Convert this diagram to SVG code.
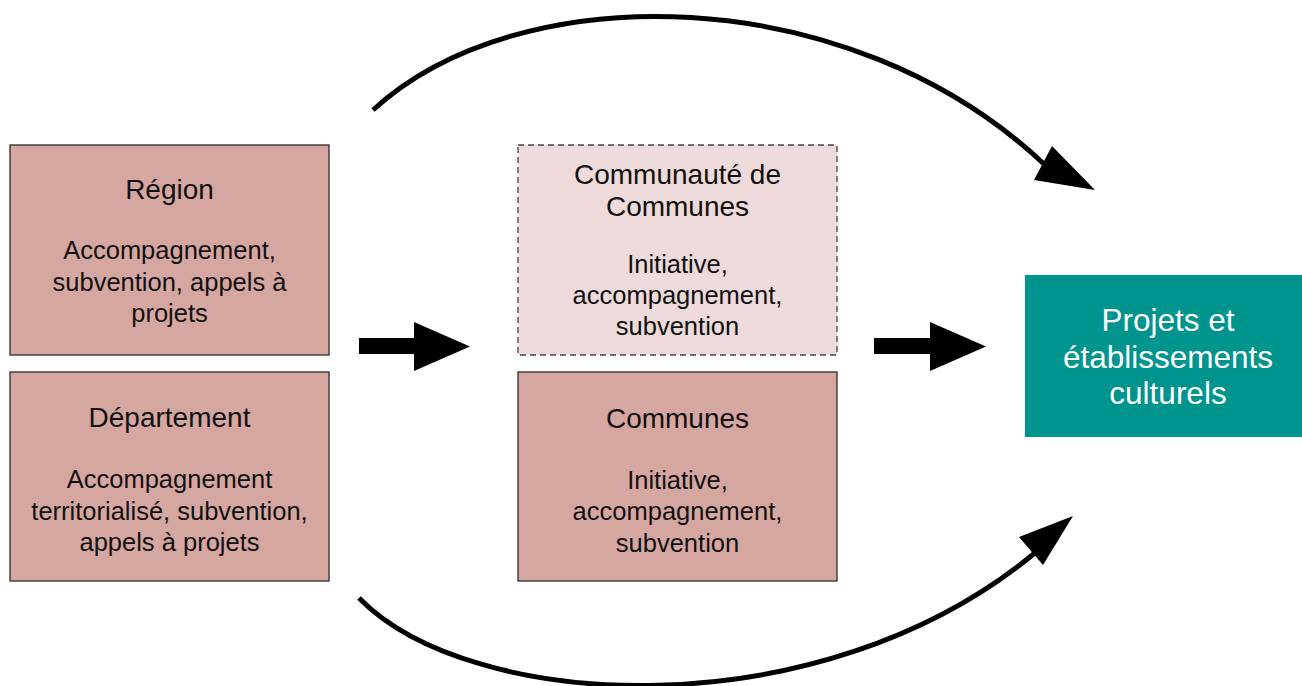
<svg xmlns="http://www.w3.org/2000/svg" width="1302" height="686" viewBox="0 0 1302 686">
<style>
.box{fill:#d6a7a1;stroke:#2b2b2b;stroke-width:1.3}
.dash{fill:#eedada;stroke:#444;stroke-width:1.3;stroke-dasharray:6,4}
.teal{fill:#00948f}
text{font-family:"Liberation Sans",Arial,sans-serif;text-anchor:middle;fill:#111}
.t{font-size:28px}
.b{font-size:25.5px}
.w{font-size:31.5px;fill:#fff}
.curve{fill:none;stroke:#000;stroke-width:5}
.head{fill:#000}
</style>
<rect width="1302" height="686" fill="#fff"/>
<g id="region">
<rect class="box" x="10" y="145" width="319" height="210"/>
<text class="t" x="169.5" y="199">Région</text>
<text class="b" x="169.5" y="259">Accompagnement,</text>
<text class="b" x="169.5" y="291">subvention, appels à</text>
<text class="b" x="169.5" y="322">projets</text>
</g>
<g id="departement">
<rect class="box" x="10" y="372" width="319" height="209"/>
<text class="t" x="169.5" y="427">Département</text>
<text class="b" x="169.5" y="488">Accompagnement</text>
<text class="b" x="169.5" y="520">territorialisé, subvention,</text>
<text class="b" x="169.5" y="551">appels à projets</text>
</g>
<g id="communaute">
<rect class="dash" x="518" y="145" width="319" height="210"/>
<text class="t" x="677.5" y="184">Communauté de</text>
<text class="t" x="677.5" y="216">Communes</text>
<text class="b" x="677.5" y="273">Initiative,</text>
<text class="b" x="677.5" y="304">accompagnement,</text>
<text class="b" x="677.5" y="335">subvention</text>
</g>
<g id="communes">
<rect class="box" x="518" y="372" width="319" height="209"/>
<text class="t" x="677.5" y="428">Communes</text>
<text class="b" x="677.5" y="489">Initiative,</text>
<text class="b" x="677.5" y="520">accompagnement,</text>
<text class="b" x="677.5" y="552">subvention</text>
</g>
<g id="projets">
<rect class="teal" x="1025" y="275" width="277" height="162"/>
<text class="w" x="1168" y="331">Projets et</text>
<text class="w" x="1168" y="368">établissements</text>
<text class="w" x="1168" y="404">culturels</text>
</g>
<g id="connectors">
<polygon class="head" points="359,338 414,338 414,322 470,346.5 414,371 414,354 359,354"/>
<polygon class="head" points="874,338 930,338 930,322 986,346.5 930,371 930,354 874,354"/>
<path class="curve" d="M373,110 C520,-25 850,-20 1045,165"/>
<polygon class="head" points="1052,146 1095,190 1034,180"/>
<path class="curve" d="M359,598 C470,712 820,732 1036,552"/>
<polygon class="head" points="1019,537 1073,516 1043,565"/>
</g>
</svg>
